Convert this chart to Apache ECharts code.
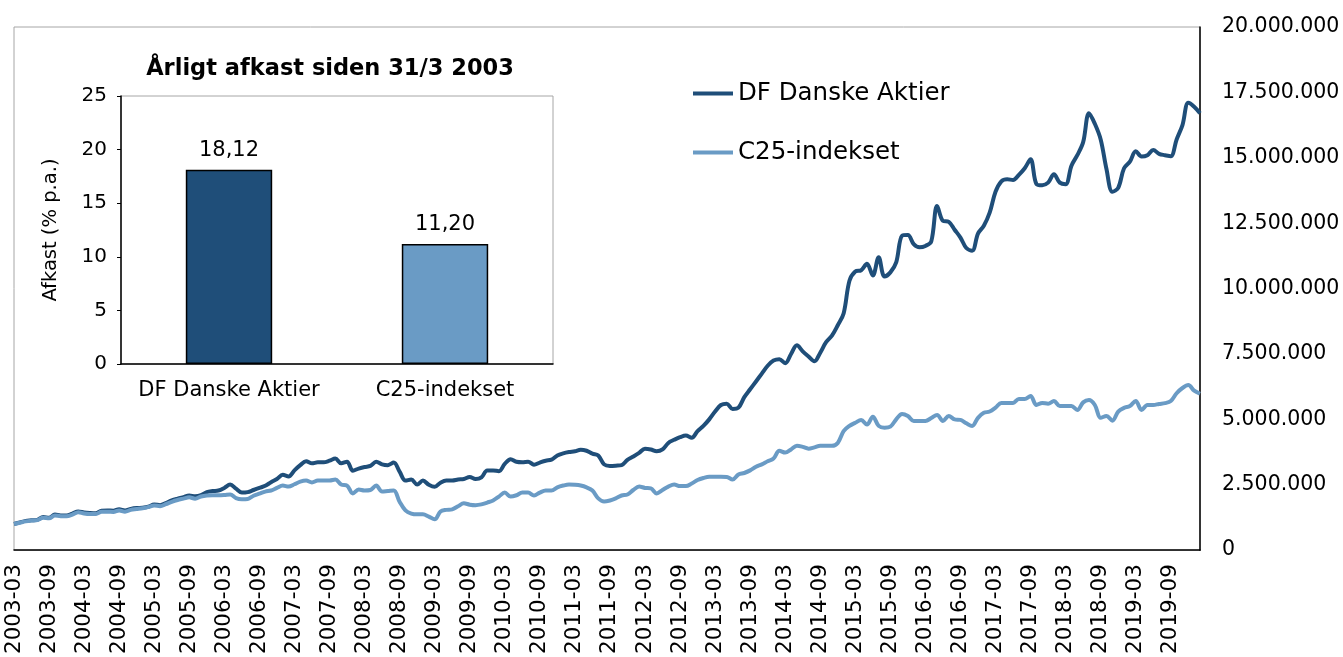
<!DOCTYPE html>
<html>
<head>
<meta charset="utf-8">
<script src="https://cdn.jsdelivr.net/npm/echarts@6/dist/echarts.min.js"></script>
<style>
  html, body { margin: 0; padding: 0; background: #fff; }
  #chart { width: 1343px; height: 657px; }
</style>
</head>
<body>
<div id="chart"></div>
<script>
// værdi af investering, mio. kr., månedlig fra 2003-03 til 2020-02
const dfDanskeAktier = [
  1.00, 1.06, 1.12, 1.14, 1.16, 1.27, 1.24, 1.36, 1.33, 1.33,             // 2003
  1.40, 1.48, 1.44, 1.42, 1.41, 1.51, 1.52, 1.51, 1.56, 1.52, 1.58, 1.61, // 2004
  1.62, 1.66, 1.75, 1.72, 1.80, 1.90, 1.97, 2.03, 2.09, 2.06, 2.10, 2.22, // 2005
  2.26, 2.28, 2.38, 2.51, 2.35, 2.20, 2.22, 2.30, 2.38, 2.46, 2.60, 2.72, // 2006
  2.88, 2.82, 3.05, 3.25, 3.40, 3.32, 3.36, 3.36, 3.42, 3.50, 3.32, 3.38, // 2007
  3.04, 3.12, 3.18, 3.22, 3.38, 3.28, 3.25, 3.35, 3.00, 2.66, 2.70, 2.51, // 2008
  2.66, 2.50, 2.42, 2.58, 2.66, 2.66, 2.70, 2.72, 2.80, 2.72, 2.78, 3.05, // 2009
  3.05, 3.02, 3.30, 3.48, 3.38, 3.36, 3.38, 3.27, 3.35, 3.42, 3.46, 3.62, // 2010
  3.70, 3.75, 3.78, 3.84, 3.80, 3.69, 3.62, 3.28, 3.22, 3.23, 3.25, 3.45, // 2011
  3.58, 3.72, 3.88, 3.85, 3.78, 3.85, 4.10, 4.22, 4.32, 4.38, 4.30, 4.55, // 2012
  4.75, 5.00, 5.30, 5.55, 5.60, 5.40, 5.45, 5.85, 6.15, 6.45, 6.75, 7.05, // 2013
  7.25, 7.30, 7.15, 7.50, 7.83, 7.60, 7.40, 7.22, 7.55, 7.95, 8.20, 8.60, // 2014
  9.05, 10.30, 10.65, 10.70, 10.95, 10.50, 11.20, 10.46, 10.62, 11.00, 12.02, 12.05, // 2015
  11.70, 11.58, 11.63, 11.80, 13.16, 12.59, 12.55, 12.25, 11.95, 11.55, 11.45, 12.10, // 2016
  12.40, 12.90, 13.70, 14.10, 14.18, 14.15, 14.35, 14.60, 14.94, 14.00, 13.95, 14.05, // 2017
  14.37, 14.05, 13.99, 14.70, 15.10, 15.60, 16.70, 16.30, 15.70, 14.56, 13.70, 13.85, // 2018
  14.60, 14.85, 15.25, 15.05, 15.10, 15.30, 15.15, 15.10, 15.06, 15.70, 16.25, 17.10, // 2019
  16.95, 16.70                                                             // 2020
];
const c25Indekset = [
  1.00, 1.05, 1.10, 1.13, 1.15, 1.24, 1.22, 1.33, 1.30, 1.30,             // 2003
  1.36, 1.45, 1.40, 1.38, 1.38, 1.47, 1.47, 1.46, 1.52, 1.47, 1.54, 1.57, // 2004
  1.60, 1.65, 1.71, 1.68, 1.76, 1.85, 1.92, 1.97, 2.02, 1.97, 2.05, 2.09, // 2005
  2.10, 2.10, 2.11, 2.13, 1.99, 1.95, 1.96, 2.08, 2.16, 2.24, 2.28, 2.38, // 2006
  2.47, 2.43, 2.52, 2.62, 2.66, 2.59, 2.66, 2.66, 2.66, 2.70, 2.51, 2.47, // 2007
  2.17, 2.32, 2.28, 2.30, 2.47, 2.24, 2.26, 2.28, 1.85, 1.52, 1.40, 1.37, // 2008
  1.37, 1.28, 1.18, 1.48, 1.54, 1.56, 1.68, 1.79, 1.74, 1.72, 1.75, 1.82, // 2009
  1.90, 2.05, 2.20, 2.05, 2.10, 2.20, 2.20, 2.09, 2.20, 2.28, 2.28, 2.40, // 2010
  2.47, 2.51, 2.50, 2.47, 2.40, 2.28, 1.98, 1.86, 1.90, 1.98, 2.09, 2.13, // 2011
  2.30, 2.43, 2.38, 2.36, 2.17, 2.30, 2.43, 2.51, 2.45, 2.45, 2.55, 2.68, // 2012
  2.76, 2.81, 2.81, 2.81, 2.80, 2.70, 2.89, 2.95, 3.05, 3.19, 3.28, 3.40, // 2013
  3.50, 3.80, 3.73, 3.85, 3.99, 3.95, 3.88, 3.93, 3.99, 3.99, 3.99, 4.10, // 2014
  4.55, 4.75, 4.87, 4.98, 4.80, 5.10, 4.75, 4.68, 4.72, 5.00, 5.21, 5.13, // 2015
  4.94, 4.94, 4.94, 5.05, 5.17, 4.94, 5.13, 5.00, 4.98, 4.85, 4.75, 5.06, // 2016
  5.25, 5.30, 5.45, 5.63, 5.63, 5.63, 5.78, 5.78, 5.89, 5.55, 5.63, 5.60, // 2017
  5.70, 5.51, 5.51, 5.51, 5.36, 5.65, 5.74, 5.55, 5.06, 5.13, 4.95, 5.30, // 2018
  5.44, 5.51, 5.70, 5.36, 5.55, 5.55, 5.59, 5.62, 5.70, 6.00, 6.20, 6.31, // 2019
  6.10, 5.98                                                               // 2020
];

// årligt afkast (% p.a.)
const afkastNavne = ['DF Danske Aktier', 'C25-indekset'];
const afkastValues = [18.12, 11.20];

const seriesNames = ['DF Danske Aktier', 'C25-indekset'];
const darkBlue = '#1F4E79';
const lightBlue = '#6A9BC5';
const font = 'DejaVu Sans';

// månedsetiketter 2003-03 ... 2020-02
const months = [];
for (let i = 0; i < dfDanskeAktier.length; i++) {
    const m = 2 + i;
    const y = 2003 + Math.floor(m / 12);
    const mm = (m % 12) + 1;
    months.push(y + '-' + (mm < 10 ? '0' + mm : mm));
}

const dkNumber = v => Math.round(v).toString().replace(/\B(?=(\d{3})+(?!\d))/g, '.');

const chart = echarts.init(document.getElementById('chart'));

const legendBase = {
    left: 693, padding: 0,
    icon: 'rect',
    itemWidth: 40, itemHeight: 4, itemGap: 5,
    textStyle: { fontFamily: font, fontSize: 24.5, color: '#000' }
};

const option = {
    animation: false,
    textStyle: { fontFamily: font, color: '#000' },
    grid: [
        {
            left: 14, right: 143, top: 27, bottom: 104,
            show: true, borderColor: '#a6a6a6', borderWidth: 1
        },
        {
            left: 121, top: 96, width: 432, height: 268,
            show: true, borderColor: '#a6a6a6', borderWidth: 1
        }
    ],
    legend: [
        Object.assign({ data: [seriesNames[0]], top: 81 }, legendBase),
        Object.assign({ data: [seriesNames[1]], top: 140 }, legendBase)
    ],
    xAxis: [
        {
            type: 'category',
            gridIndex: 0,
            data: months,
            boundaryGap: false,
            axisLine: { lineStyle: { color: '#000', width: 1.5 } },
            axisTick: { show: false },
            axisLabel: {
                interval: 5, rotate: 90, margin: 14,
                fontFamily: font, fontSize: 21.5, color: '#000'
            },
            splitLine: { show: false }
        },
        {
            type: 'category',
            gridIndex: 1,
            data: afkastNavne,
            axisLine: { lineStyle: { color: '#000', width: 1.5 } },
            axisTick: { show: false },
            axisLabel: { interval: 0, margin: 16, fontFamily: font, fontSize: 21, color: '#000' }
        }
    ],
    yAxis: [
        {
            type: 'value',
            gridIndex: 0,
            position: 'right',
            min: 0, max: 20000000, interval: 2500000,
            axisLine: { show: true, lineStyle: { color: '#000', width: 1.5 } },
            axisTick: { show: false },
            splitLine: { show: false },
            axisLabel: {
                margin: 22, fontFamily: font, fontSize: 20.5, color: '#000',
                formatter: dkNumber
            }
        },
        {
            type: 'value',
            gridIndex: 1,
            min: 0, max: 25, interval: 5,
            name: 'Afkast (% p.a.)',
            nameLocation: 'middle',
            nameRotate: 90,
            nameGap: 60,
            nameTextStyle: { fontFamily: font, fontSize: 19.5, color: '#000' },
            axisLine: { show: true, lineStyle: { color: '#000', width: 1.5 } },
            axisTick: { show: true, length: 4, lineStyle: { color: '#000' } },
            splitLine: { show: false },
            axisLabel: { margin: 14, fontFamily: font, fontSize: 20, color: '#000' }
        }
    ],
    graphic: [
        {
            type: 'text',
            x: 330, y: 69,
            style: {
                text: 'Årligt afkast siden 31/3 2003',
                font: 'bold 22.5px "DejaVu Sans"',
                fill: '#000',
                textAlign: 'center',
                textVerticalAlign: 'middle'
            }
        }
    ],
    series: [
        {
            name: seriesNames[0],
            type: 'line',
            xAxisIndex: 0, yAxisIndex: 0,
            data: dfDanskeAktier.map(v => v * 1e6),
            smooth: 0.35,
            symbol: 'none',
            color: darkBlue,
            lineStyle: { color: darkBlue, width: 4 }
        },
        {
            name: seriesNames[1],
            type: 'line',
            xAxisIndex: 0, yAxisIndex: 0,
            data: c25Indekset.map(v => v * 1e6),
            smooth: 0.35,
            symbol: 'none',
            color: lightBlue,
            lineStyle: { color: lightBlue, width: 4 }
        },
        {
            type: 'bar',
            xAxisIndex: 1, yAxisIndex: 1,
            barWidth: '40%',
            data: afkastValues.map((v, i) => ({
                value: v,
                itemStyle: { color: i === 0 ? darkBlue : lightBlue, borderColor: '#000', borderWidth: 1.5 }
            })),
            label: {
                show: true, position: 'top', distance: 9,
                fontFamily: font, fontSize: 21, color: '#000',
                formatter: p => p.value.toFixed(2).replace('.', ',')
            }
        }
    ]
};

chart.setOption(option);
window.addEventListener('resize', chart.resize);
</script>
</body>
</html>
